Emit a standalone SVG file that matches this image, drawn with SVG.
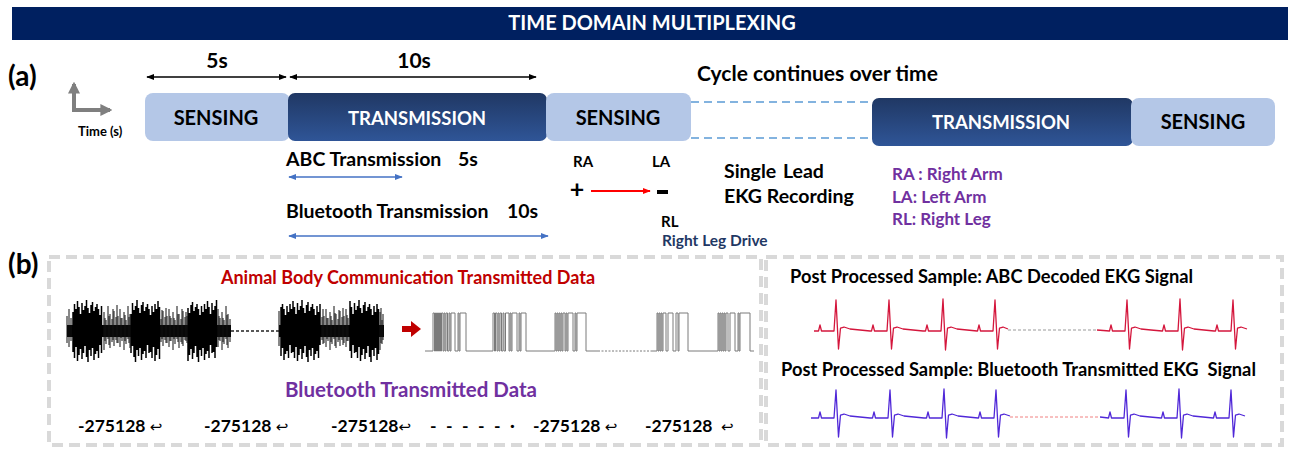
<svg xmlns="http://www.w3.org/2000/svg" width="1296" height="449" viewBox="0 0 1296 449">
<style>
text{font-family:Lato,"Liberation Sans",sans-serif;font-weight:700;fill:#000}
.c{text-anchor:middle}
.w{fill:#fff}
.pu{fill:#7030A0}
.sens{fill:#B4C7E7}
.tr{fill:url(#gTr)}
.dash{fill:none;stroke:#D9D9D9;stroke-width:4;stroke-dasharray:11 6}
.ekg{fill:none;stroke-width:1.3;stroke-linejoin:round}
.ret{font-weight:400;font-family:"DejaVu Sans",sans-serif;font-size:15px}
</style>
<defs>
<linearGradient id="gTr" x1="0" y1="0" x2="0" y2="1"><stop offset="0" stop-color="#203864"/><stop offset="1" stop-color="#2F5597"/></linearGradient>
<marker id="hk" viewBox="0 0 10 10" refX="9" refY="5" markerWidth="8" markerHeight="8" markerUnits="userSpaceOnUse" orient="auto-start-reverse"><path d="M0,1 L10,5 L0,9 Z" fill="#000"/></marker>
<marker id="hb" viewBox="0 0 10 10" refX="9" refY="5" markerWidth="8" markerHeight="8" markerUnits="userSpaceOnUse" orient="auto-start-reverse"><path d="M0,1 L10,5 L0,9 Z" fill="#4472C4"/></marker>
<marker id="hr" viewBox="0 0 10 10" refX="9" refY="5" markerWidth="8" markerHeight="8" markerUnits="userSpaceOnUse" orient="auto"><path d="M0,1 L10,5 L0,9 Z" fill="#FF0000"/></marker>
<marker id="hg" viewBox="0 0 10 10" refX="8" refY="5" markerWidth="12" markerHeight="12" markerUnits="userSpaceOnUse" orient="auto"><path d="M0,0 L10,5 L0,10 Z" fill="#7F7F7F"/></marker>
</defs>

<g id="header">
<rect x="12" y="7" width="1276" height="33" fill="#002060"/>
<text class="c w" x="652" y="30" font-size="20">TIME DOMAIN MULTIPLEXING</text>
</g>

<g id="panel-a">
<text x="8" y="86" font-size="28">(a)</text>
<g id="time-axis">
<path d="M74,110 V84" stroke="#7F7F7F" stroke-width="4" fill="none" marker-end="url(#hg)"/>
<path d="M72,110 H110" stroke="#7F7F7F" stroke-width="4" fill="none" marker-end="url(#hg)"/>
<text x="78" y="136" font-size="13">Time (s)</text>
</g>
<g id="label-5s"><text class="c" x="217" y="68" font-size="21">5s</text></g>
<g id="label-10s"><text class="c" x="414" y="68" font-size="21">10s</text></g>
<g id="sensing-1"><rect class="sens" x="145" y="93" width="145" height="48" rx="8"/><text class="c" x="216" y="125" font-size="20">SENSING</text></g>
<g id="transmission-1"><rect class="tr" x="288" y="93" width="259" height="48" rx="7"/><text class="c w" x="417" y="125" font-size="18.5">TRANSMISSION</text></g>
<g id="sensing-2"><rect class="sens" x="546" y="93" width="145" height="48" rx="8"/><text class="c" x="618" y="125" font-size="20">SENSING</text></g>
<g id="cycle-label"><text x="697" y="81" font-size="21">Cycle continues over time</text></g>
<g id="transmission-2"><rect class="tr" x="872" y="98" width="261" height="48" rx="7"/><text class="c w" x="1001" y="129" font-size="18.5">TRANSMISSION</text></g>
<g id="sensing-3"><rect class="sens" x="1131" y="98" width="144" height="48" rx="8"/><text class="c" x="1203" y="129" font-size="20">SENSING</text></g>
<g id="abc-tx"><text x="286" y="166" font-size="19.5">ABC Transmission</text><text x="458" y="166" font-size="19.5">5s</text></g>
<g id="bt-tx"><text x="286" y="218" font-size="19.5">Bluetooth Transmission</text><text x="507" y="218" font-size="19.5">10s</text></g>
<g id="electrodes">
<text x="573" y="167" font-size="15">RA</text>
<text x="652" y="167" font-size="15">LA</text>
<text class="c" x="577" y="198" font-size="25" font-weight="400">+</text>
<rect x="657" y="190" width="11" height="4" fill="#000"/>
<text x="661" y="227" font-size="15">RL</text>
<text x="662" y="246" font-size="15.5" style="fill:#1F3864">Right Leg Drive</text>
</g>
<g id="ekg-label"><text x="724" y="178" font-size="19.5" word-spacing="2">Single Lead</text><text x="724" y="203" font-size="19.5">EKG Recording</text></g>
<g id="legend">
<text class="pu" x="892" y="180" font-size="17">RA : Right Arm</text>
<text class="pu" x="892" y="203" font-size="17">LA: Left Arm</text>
<text class="pu" x="892" y="225" font-size="17">RL: Right Leg</text>
</g>
</g>

<g id="connectors">
<line x1="147" y1="77" x2="286" y2="77" stroke="#000" stroke-width="1.5" marker-start="url(#hk)" marker-end="url(#hk)"/>
<line x1="290" y1="77" x2="536" y2="77" stroke="#000" stroke-width="1.5" marker-start="url(#hk)" marker-end="url(#hk)"/>
<line x1="691" y1="102" x2="872" y2="102" stroke="#5B9BD5" stroke-width="1.5" stroke-dasharray="8 5"/>
<line x1="691" y1="138" x2="872" y2="138" stroke="#5B9BD5" stroke-width="1.5" stroke-dasharray="8 5"/>
<line x1="289" y1="177" x2="402" y2="177" stroke="#4472C4" stroke-width="1.5" marker-start="url(#hb)" marker-end="url(#hb)"/>
<line x1="289" y1="236" x2="548" y2="236" stroke="#4472C4" stroke-width="1.5" marker-start="url(#hb)" marker-end="url(#hb)"/>
<line x1="591" y1="191" x2="650" y2="191" stroke="#FF0000" stroke-width="2" marker-end="url(#hr)"/>
<path d="M402,326 H411 V321 L421,329 L411,337 V332 H402 Z" fill="#C00000"/>
</g>

<g id="panel-b">
<text x="8" y="274" font-size="28">(b)</text>
<rect class="dash" x="49" y="257" width="712" height="188"/>
<rect class="dash" x="766" y="257" width="516" height="188"/>

<g id="abc-data">
<text class="c" x="408" y="284" font-size="18" style="fill:#C00000">Animal Body Communication Transmitted Data</text>
<g id="abc-raw">
<rect x="67" y="325" width="164" height="12" fill="#000"/>
<rect x="279" y="325" width="105" height="12" fill="#000"/>
<line x1="231" y1="331" x2="279" y2="331" stroke="#222" stroke-width="1.5" stroke-dasharray="3 2"/>
<path stroke="#000" stroke-width="1.5" fill="none" d="M73 312V352M74.5 304V358M76 309V347M77.5 301V361M79 307V355M80.5 314V349M82 303V359M83.5 310V353M85 306V346M86.5 300V357M88 308V362M89.5 313V350M91 305V356M92.5 302V348M94 311V360M95.5 307V354M97 304V351M98.5 309V358M100 315V345M101.5 306V353
M131 314V353M132.5 303V346M134 310V357M135.5 306V362M137 300V350M138.5 308V356M140 313V348M141.5 305V360M143 302V354M144.5 311V351M146 307V358M147.5 304V345M149 309V353M150.5 315V352M152 306V358M153.5 312V347M155 304V361M156.5 309V355M158 301V349M159.5 307V359
M188 308V361M189.5 313V355M191 305V349M192.5 302V359M194 311V353M195.5 307V346M197 304V357M198.5 309V362M200 315V350M201.5 306V356M203 312V348M204.5 304V360M206 309V354M207.5 301V351M209 307V358M210.5 314V345M212 303V353M213.5 310V352M215 306V358M216.5 300V347
M281 307V356M282.5 304V348M284 309V360M285.5 315V354M287 306V351M288.5 312V358M290 304V345M291.5 309V353M293 301V352M294.5 307V358M296 314V347M297.5 303V361M299 310V355M300.5 306V349M302 300V359M303.5 308V353M305 313V346M306.5 305V357M308 302V362M309.5 311V350M311 307V356M312.5 304V348M314 309V360M315.5 315V354M317 306V351M318.5 312V358M320 304V345
M350 301V351M351.5 307V358M353 314V345M354.5 303V353M356 310V352M357.5 306V358M359 300V347M360.5 308V361M362 313V355M363.5 305V349M365 302V359M366.5 311V353M368 307V346M369.5 304V357M371 309V362M372.5 315V350M374 306V356M375.5 312V348M377 304V360M378.5 309V354"/>
<path stroke="#111" stroke-width="1" fill="none" d="M67 316V343M69 309V347M71 318V341
M104 312V350M105 318V341M106 320V344M108 306V339M109 316V345M110 314V348M112 319V342M113 309V340M114 311V346M116 317V340M117 305V343M118 316V343M120 309V347M121 318V338M122 318V341M124 312V350M125 315V341M126 320V344M128 306V339M129 317V343M130 314V348
M161 319V342M162 310V339M163 311V346M165 317V340M166 308V343M167 316V343M169 309V347M170 316V341M171 318V341M173 312V350M174 318V339M175 320V344M177 306V339M178 314V342M179 314V348M181 319V342M182 309V344M183 311V346M185 317V340M186 312V341M187 316V343
M218 309V347M219 316V340M220 318V341M222 312V350M223 318V342M224 320V344M226 306V339M227 315V345M228 314V348M230 319V342
M279 311V346M322 317V340M323 309V344M324 316V343M326 309V347M327 318V339M328 318V341M330 312V350M331 316V342M332 320V344M334 306V339M335 313V346M336 314V348M338 319V342M339 310V340M340 311V346M342 317V340M343 308V345M344 316V343M346 309V347M347 315V341M348 318V341
M380 312V350M381 308V343M382 320V344M383 314V340"/>
</g>
<g id="abc-digital" fill="none" stroke="#7a7a7a" stroke-width="1">
<path d="M425,351 H433 V313 H434.5 V351 H435.5 V313 H436.5 V351 H437.5 V313 H438.5 V351 H439.5 V313 H440.5 V351 H441.5 V313 H443 V351 H444 V313 H445 V351 H446 V313 H447.5 V351 H449 V313 H450 V351 H451 V313 H455 V351 H458 V313 H459 V351 H460 V313 H466 V351
H493 V313 H494.5 V351 H495.5 V313 H497 V351 H498 V313 H499 V351 H500 V313 H501.5 V351 H503 V313 H504 V351 H505.5 V313 H509 V351 H510 V313 H511 V351 H512 V313 H517 V351 H519 V313 H520 V351 H521 V313 H526 V351
H555 V313 H556 V351 H557 V313 H558 V351 H559 V313 H560 V351 H561 V313 H562 V351 H563 V313 H565 V351 H566 V313 H567 V351 H568 V313 H573 V351 H575 V313 H576 V351 H577 V313 H586 V351 H598"/>
<path d="M598,351 H652" stroke-dasharray="2 1.5"/>
<path d="M652,351 H657 V313 H658 V351 H659 V313 H660 V351 H661 V313 H662 V351 H663 V313 H666 V351 H668 V313 H673 V351 H676 V313 H678 V351 H679 V313 H688 V351
H718 V313 H719 V351 H720 V313 H721 V351 H722 V313 H723 V351 H724 V313 H725 V351 H726 V313 H728 V351 H730 V313 H735 V351 H738 V313 H739 V351 H740 V313 H750 V351 H754"/>
</g>
</g>

<g id="bt-data">
<text class="c pu" x="411" y="397" font-size="20.5">Bluetooth Transmitted Data</text>
<g font-size="17.5">
<text x="78" y="432">-275128 <tspan class="ret">↩</tspan></text>
<text x="204" y="432">-275128 <tspan class="ret">↩</tspan></text>
<text x="331" y="432">-275128<tspan class="ret">↩</tspan></text>
<text x="430" y="432" letter-spacing="2.6">- - - - - ·</text>
<text x="533" y="432">-275128 <tspan class="ret">↩</tspan></text>
<text x="645" y="432" xml:space="preserve">-275128  <tspan class="ret">↩</tspan></text>
</g>
</g>

<g id="ekg-results">
<text x="790" y="283" font-size="18.3">Post Processed Sample: ABC Decoded EKG Signal</text>
<path class="ekg" stroke="#D4163C" d="M814,331 L818.5,331 L820,325 L821.5,331 L834,331 L836,300 L838.5,349 L840.5,328 L844,327 L850,329 L860,330 L870,331 L871.5,331 L873,325 L874.5,331 L887,331 L889,300 L891.5,349 L893.5,328 L897,327 L903,329 L913,330 L923,331 L925.5,331 L927,325 L928.5,331 L941,331 L943,299 L945.5,350 L947.5,328 L951,327 L957,329 L967,330 L977,331 L977.5,331 L979,325 L980.5,331 L993,331 L995,300 L997.5,349 L999.5,328 L1003,327 L1008,329"/>
<line x1="1008" y1="330" x2="1097" y2="330" stroke="#999" stroke-width="1" stroke-dasharray="3 2"/>
<path class="ekg" stroke="#D4163C" d="M1097,330 L1109.5,331 L1111,325 L1112.5,331 L1125,331 L1127,300 L1129.5,349 L1131.5,328 L1135,327 L1141,329 L1151,330 L1162,331 L1162.5,331 L1164,325 L1165.5,331 L1178,331 L1180,299 L1182.5,350 L1184.5,328 L1188,327 L1194,329 L1204,330 L1214,331 L1215.5,331 L1217,325 L1218.5,331 L1231,331 L1233,300 L1235.5,349 L1237.5,328 L1241,327 L1247,329"/>

<text x="781" y="376" font-size="18.3" xml:space="preserve">Post Processed Sample: Bluetooth Transmitted EKG  Signal</text>
<path class="ekg" stroke="#5028D8" d="M811,418 L818.5,418 L820,412 L821.5,418 L834,418 L836,390 L838.5,437 L840.5,415 L844,414 L850,416 L860,417 L870,418 L872.5,418 L874,412 L875.5,418 L888,418 L890,390 L892.5,437 L894.5,415 L898,414 L904,416 L914,417 L924,418 L926.5,418 L928,412 L929.5,418 L942,418 L944,389 L946.5,438 L948.5,415 L952,414 L958,416 L968,417 L978,418 L978.5,418 L980,412 L981.5,418 L994,418 L996,390 L998.5,437 L1000.5,415 L1004,414 L1010,416"/>
<line x1="1010" y1="417" x2="1100" y2="417" stroke="#F08080" stroke-width="1" stroke-dasharray="3 2"/>
<path class="ekg" stroke="#5028D8" d="M1100,417 L1108.5,418 L1110,412 L1111.5,418 L1124,418 L1126,390 L1128.5,437 L1130.5,415 L1134,414 L1140,416 L1150,417 L1161,418 L1161.5,418 L1163,412 L1164.5,418 L1177,418 L1179,389 L1181.5,438 L1183.5,415 L1187,414 L1193,416 L1203,417 L1213,418 L1213.5,418 L1215,412 L1216.5,418 L1229,418 L1231,390 L1233.5,437 L1235.5,415 L1239,414 L1245,416"/>
</g>
</g>
</svg>
